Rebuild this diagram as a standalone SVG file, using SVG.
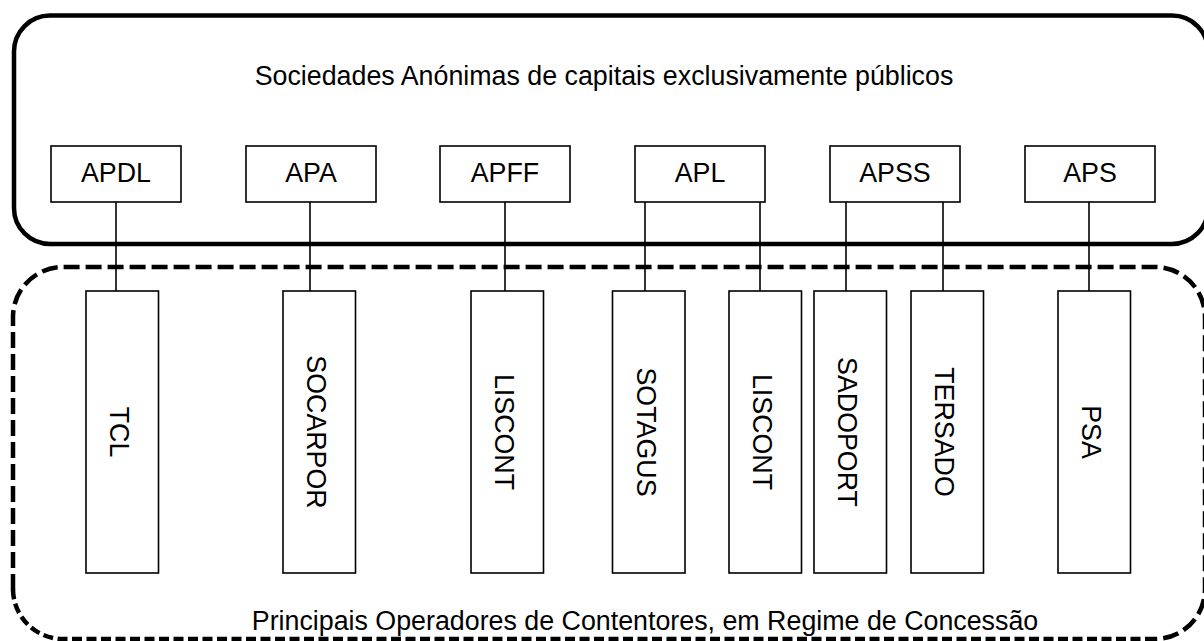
<svg xmlns="http://www.w3.org/2000/svg" width="1204" height="641" viewBox="0 0 1204 641">
<style>
.lbl{font-family:"Liberation Sans",Arial,sans-serif;font-size:26.8px;fill:#000}
.mid{text-anchor:middle}
.box{fill:#fff;stroke:#000;stroke-width:1.6}
.conn{stroke:#000;stroke-width:1.6;fill:none}
</style>
<rect width="1204" height="641" fill="#fff"/>
<g id="public-container">
<rect x="14" y="15.5" width="1194" height="228.5" rx="36" ry="36" fill="none" stroke="#000" stroke-width="4.5"/>
<text class="lbl mid" x="604" y="85">Sociedades Anónimas de capitais exclusivamente públicos</text>
</g>
<g id="operators-container">
<path d="M13,590 L13,317 A50,50 0 0 1 63,267 L1155,267 A50,50 0 0 1 1205,317 L1205,589 A50,50 0 0 1 1155,639" fill="none" stroke="#000" stroke-width="4.5" stroke-dasharray="16 6"/>
<path d="M1155,639 L63,639 A50,50 0 0 1 13,589" fill="none" stroke="#000" stroke-width="4.5" stroke-dasharray="10 4.5"/>
<text class="lbl mid" x="645" y="630">Principais Operadores de Contentores, em Regime de Concessão</text>
</g>
<g id="connectors">
<line class="conn" x1="116" y1="202" x2="116" y2="291"/>
<line class="conn" x1="310" y1="202" x2="310" y2="291"/>
<line class="conn" x1="505" y1="202" x2="505" y2="291"/>
<line class="conn" x1="645" y1="202" x2="645" y2="291"/>
<line class="conn" x1="760" y1="202" x2="760" y2="291"/>
<line class="conn" x1="846" y1="202" x2="846" y2="291"/>
<line class="conn" x1="943" y1="202" x2="943" y2="291"/>
<line class="conn" x1="1089" y1="202" x2="1089" y2="291"/>
</g>
<g id="APDL"><rect class="box" x="51" y="146" width="130" height="56"/><text class="lbl mid" x="116" y="182">APDL</text></g>
<g id="APA"><rect class="box" x="246" y="146" width="130" height="56"/><text class="lbl mid" x="311" y="182">APA</text></g>
<g id="APFF"><rect class="box" x="440" y="146" width="130" height="56"/><text class="lbl mid" x="505" y="182">APFF</text></g>
<g id="APL"><rect class="box" x="635" y="146" width="130" height="56"/><text class="lbl mid" x="700" y="182">APL</text></g>
<g id="APSS"><rect class="box" x="830" y="146" width="130" height="56"/><text class="lbl mid" x="895" y="182">APSS</text></g>
<g id="APS"><rect class="box" x="1025" y="146" width="130" height="56"/><text class="lbl mid" x="1090" y="182">APS</text></g>
<g id="TCL"><rect class="box" x="86" y="291" width="72.5" height="282"/><text class="lbl mid" transform="translate(110,432) rotate(90)">TCL</text></g>
<g id="SOCARPOR"><rect class="box" x="283" y="291" width="72.5" height="282"/><text class="lbl mid" transform="translate(307,432) rotate(90)">SOCARPOR</text></g>
<g id="LISCONT-1"><rect class="box" x="471" y="291" width="72.5" height="282"/><text class="lbl mid" transform="translate(495,432) rotate(90)">LISCONT</text></g>
<g id="SOTAGUS"><rect class="box" x="612.5" y="291" width="72.5" height="282"/><text class="lbl mid" transform="translate(637,432) rotate(90)">SOTAGUS</text></g>
<g id="LISCONT-2"><rect class="box" x="729" y="291" width="72.5" height="282"/><text class="lbl mid" transform="translate(753,432) rotate(90)">LISCONT</text></g>
<g id="SADOPORT"><rect class="box" x="814" y="291" width="72.5" height="282"/><text class="lbl mid" transform="translate(838,432) rotate(90)">SADOPORT</text></g>
<g id="TERSADO"><rect class="box" x="911" y="291" width="72.5" height="282"/><text class="lbl mid" transform="translate(935,432) rotate(90)">TERSADO</text></g>
<g id="PSA"><rect class="box" x="1058" y="291" width="72.5" height="282"/><text class="lbl mid" transform="translate(1082,432) rotate(90)">PSA</text></g>
</svg>
